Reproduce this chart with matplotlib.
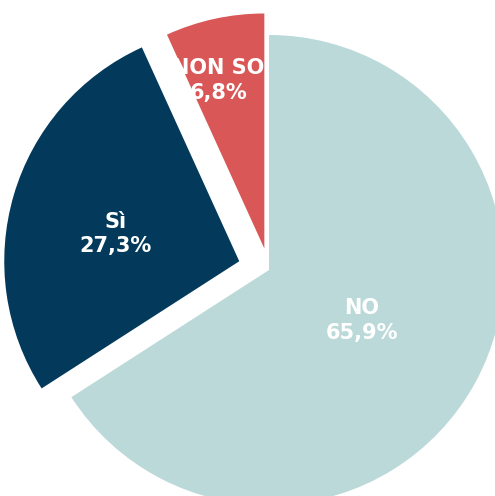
import math
import matplotlib
matplotlib.use("Agg")
import matplotlib.pyplot as plt

# -----------------------------
# Data
# -----------------------------
labels = ["NO", "Sì", "NON SO"]
values = [65.9, 27.3, 6.8]
colors = ["#bcd9d9", "#033a5b", "#d95757"]

# offsets of the detached slices (pixels) and where each label sits
explode = [0, 31, 22]
label_dist = [0.45, 0.54, 0.74]
label_turn = [0, 4, 3]   # degrees, nudges label off the bisector

# -----------------------------
# Figure in pixel coordinates
# -----------------------------
fig = plt.figure(figsize=(4.95, 4.96), dpi=100)
ax = fig.add_axes([0, 0, 1, 1])

radius = 235
wedges, _ = ax.pie(
    values,
    colors=colors,
    explode=explode,
    startangle=90,
    counterclock=False,
    radius=radius,
    center=(269, -270),
    wedgeprops=dict(linewidth=0),
)

for w, lab, val, d, turn in zip(wedges, labels, values, label_dist, label_turn):
    cx, cy = w.center
    mid = math.radians((w.theta1 + w.theta2) / 2 + turn)
    tx = cx + d * radius * math.cos(mid)
    ty = cy + d * radius * math.sin(mid)
    txt = f"{lab}\n{val:.1f}%".replace(".", ",")
    ax.text(tx, ty, txt, ha="center", va="center", color="white",
            fontsize=15, fontweight="bold", family="DejaVu Sans",
            linespacing=1.3)

ax.set_xlim(0, 495)
ax.set_ylim(-496, 0)
ax.set_aspect("auto")
ax.axis("off")

fig.savefig("out.png", dpi=100, facecolor="white")
